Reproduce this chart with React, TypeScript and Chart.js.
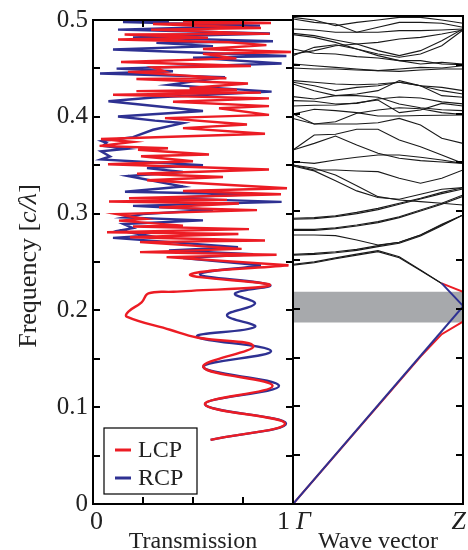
import React, { useEffect, useRef } from 'react';
import { Chart, registerables } from 'chart.js';
Chart.register(...registerables);

const FONT = '"Liberation Serif", "Times New Roman", serif';
const RED = '#ec1c24';
const BLUE = '#2e3192';

// ---------- Left panel: transmission [T, frequency] ----------
const lcpLow: number[][] = [
  [0.588, 0.0663], [0.96, 0.0833], [0.56, 0.103], [0.898, 0.122], [0.552, 0.1414], [0.802, 0.163],
  [0.52, 0.172], [0.385, 0.18], [0.168, 0.1936], [0.177, 0.1988], [0.243, 0.2083], [0.277, 0.2176],
  [0.402, 0.2193], [0.885, 0.2261], [0.485, 0.237], [0.977, 0.2466],
];
const lcpHigh: number[][] = [
  [0.977, 0.2466], [0.368, 0.255], [0.918, 0.2575], [0.235, 0.2602], [0.743, 0.2636], [0.235, 0.2705],
  [0.86, 0.2722], [0.185, 0.2756], [0.727, 0.279], [0.07, 0.2808], [0.78, 0.284], [0.2, 0.2866],
  [0.45, 0.2876], [0.13, 0.2927], [0.26, 0.2944], [0.12, 0.2995], [0.82, 0.3036], [0.33, 0.3064],
  [0.73, 0.3105], [0.08, 0.3125], [0.67, 0.3142], [0.18, 0.3159], [0.94, 0.32], [0.45, 0.3234],
  [0.97, 0.3262], [0.27, 0.3344], [0.65, 0.3378], [0.22, 0.3412], [0.88, 0.3456], [0.075, 0.351],
  [0.5, 0.3541], [0.24, 0.3593], [0.58, 0.361], [0.225, 0.366], [0.375, 0.3675], [0.033, 0.37],
  [0.2, 0.374], [0.04, 0.377], [0.86, 0.3825], [0.45, 0.3883], [0.77, 0.392], [0.36, 0.3986],
  [0.88, 0.402], [0.63, 0.4088], [0.88, 0.411], [0.4, 0.4156], [0.88, 0.419], [0.1, 0.4228],
  [0.84, 0.425], [0.217, 0.4265], [0.72, 0.428], [0.483, 0.4297], [0.775, 0.4344], [0.217, 0.439],
  [0.667, 0.4399], [0.175, 0.4464], [0.358, 0.447], [0.3, 0.451], [0.79, 0.4525], [0.14, 0.4566],
  [0.717, 0.4604], [0.55, 0.465], [0.99, 0.4669], [0.55, 0.47], [0.867, 0.474], [0.68, 0.477],
  [0.125, 0.4799], [0.575, 0.4816], [0.158, 0.485], [0.883, 0.4857], [0.29, 0.4901], [0.84, 0.4918],
  [0.3, 0.4959], [0.89, 0.4969], [0.45, 0.499],
];
const rcpLow: number[][] = [
  [0.588, 0.0663], [0.965, 0.0833], [0.56, 0.103], [0.93, 0.122], [0.552, 0.1414], [0.89, 0.158],
  [0.52, 0.173], [0.81, 0.183], [0.67, 0.195], [0.81, 0.207], [0.71, 0.2175], [0.885, 0.2261],
  [0.535, 0.237], [0.84, 0.2465],
];
const rcpHigh: number[][] = [
  [0.84, 0.2465], [0.45, 0.254], [0.8, 0.258], [0.38, 0.262], [0.725, 0.2654], [0.1, 0.2749],
  [0.27, 0.2773], [0.133, 0.2825], [0.2, 0.285], [0.152, 0.2892], [0.55, 0.293], [0.158, 0.296],
  [0.25, 0.2995], [0.6, 0.304], [0.2, 0.308], [0.943, 0.3121], [0.35, 0.316], [0.785, 0.32],
  [0.16, 0.3226], [0.45, 0.328], [0.175, 0.3388], [0.45, 0.343], [0.27, 0.347], [0.55, 0.35],
  [0.04, 0.3559], [0.085, 0.359], [0.04, 0.3644], [0.168, 0.367], [0.05, 0.37], [0.067, 0.373],
  [0.043, 0.375], [0.2, 0.379], [0.3, 0.3866], [0.45, 0.3935], [0.31, 0.396], [0.125, 0.4003],
  [0.55, 0.406], [0.077, 0.416], [0.3, 0.42], [0.893, 0.426], [0.38, 0.433], [0.66, 0.441],
  [0.035, 0.4447], [0.4, 0.447], [0.118, 0.4498], [0.943, 0.455], [0.5, 0.4611], [0.967, 0.4628],
  [0.1, 0.4696], [0.6, 0.473], [0.317, 0.4764], [0.9, 0.4781], [0.2, 0.482], [0.885, 0.486],
  [0.125, 0.4901], [0.835, 0.4942], [0.15, 0.4979], [0.38, 0.499],
];

const freqMin = 0;
const freqMax = 0.5;
const freqTickMarks = [0, 0.05, 0.1, 0.15, 0.2, 0.25, 0.3, 0.35, 0.4, 0.45, 0.5];
const transTickMarks = [0.25, 0.5, 0.75];
const seriesNames = ['LCP', 'RCP'];
const yTitleParts: [string, string][] = [['Frequency [', 'normal'], ['c/λ', 'italic'], [']', 'normal']];

// ---------- Right panel: band structure ----------
const kPoints = [0, 1, 2, 3, 4, 5, 6, 7, 8];
const kLabelStart = 'Γ';
const kLabelEnd = 'Z';
const bands: number[][] = [
  [0.4986, 0.4959, 0.4901, 0.4935, 0.4959, 0.4986, 0.4986, 0.4959, 0.4925],
  [0.4969, 0.4935, 0.4918, 0.4833, 0.4884, 0.4935, 0.4935, 0.4925, 0.4884],
  [0.4867, 0.4857, 0.4833, 0.4833, 0.4833, 0.485, 0.485, 0.4857, 0.4867],
  [0.4822, 0.4799, 0.4754, 0.4713, 0.4645, 0.4594, 0.4645, 0.4747, 0.4867],
  [0.4809, 0.4781, 0.473, 0.4662, 0.4611, 0.4577, 0.4611, 0.4696, 0.4857],
  [0.4611, 0.4645, 0.4696, 0.4713, 0.473, 0.4764, 0.4781, 0.4816, 0.4857],
  [0.4594, 0.4679, 0.4706, 0.4662, 0.4594, 0.4543, 0.4508, 0.4525, 0.4508],
  [0.4662, 0.4618, 0.4611, 0.4584, 0.457, 0.4543, 0.4543, 0.4508, 0.4501],
  [0.4508, 0.4491, 0.4474, 0.4457, 0.444, 0.4457, 0.4474, 0.4467, 0.4491],
  [0.4467, 0.4457, 0.4457, 0.4447, 0.444, 0.4433, 0.4447, 0.4457, 0.4457],
  [0.4338, 0.4321, 0.4303, 0.4296, 0.4303, 0.4321, 0.4286, 0.4269, 0.4235],
  [0.4321, 0.4286, 0.4235, 0.4269, 0.4286, 0.4321, 0.4286, 0.4235, 0.4201],
  [0.4303, 0.4235, 0.4184, 0.4201, 0.4235, 0.4338, 0.4286, 0.4184, 0.4167],
  [0.4174, 0.415, 0.4184, 0.4184, 0.4167, 0.4098, 0.406, 0.404, 0.403],
  [0.4133, 0.4126, 0.4098, 0.4105, 0.415, 0.417, 0.416, 0.412, 0.41],
  [0.4078, 0.4085, 0.4088, 0.411, 0.4139, 0.401, 0.4037, 0.4105, 0.4078],
  [0.3996, 0.4044, 0.403, 0.401, 0.3975, 0.3975, 0.398, 0.3983, 0.3986],
  [0.3996, 0.3893, 0.3917, 0.4003, 0.4037, 0.406, 0.405, 0.401, 0.399],
  [0.395, 0.3893, 0.3893, 0.3893, 0.3907, 0.3951, 0.3883, 0.3747, 0.3695],
  [0.3627, 0.3781, 0.3788, 0.3839, 0.3839, 0.373, 0.3661, 0.3576, 0.349],
  [0.3627, 0.3695, 0.377, 0.3678, 0.3593, 0.3542, 0.3518, 0.3504, 0.349],
  [0.3507, 0.349, 0.3524, 0.3552, 0.3576, 0.3576, 0.3552, 0.3524, 0.349],
  [0.3464, 0.3413, 0.3311, 0.3208, 0.314, 0.3123, 0.3174, 0.3225, 0.3242],
  [0.3473, 0.344, 0.337, 0.326, 0.3149, 0.3115, 0.3098, 0.3081, 0.3064],
  [0.3473, 0.3422, 0.3422, 0.3412, 0.3405, 0.3337, 0.3286, 0.3337, 0.3422],
  [0.2927, 0.2934, 0.2954, 0.2988, 0.3029, 0.3081, 0.3132, 0.3193, 0.3241],
  [0.2917, 0.2924, 0.2944, 0.2975, 0.3016, 0.3071, 0.3125, 0.318, 0.3228],
  [0.2814, 0.2814, 0.2831, 0.2858, 0.2893, 0.2944, 0.3012, 0.3081, 0.3166],
  [0.2804, 0.2804, 0.2821, 0.2848, 0.2883, 0.2934, 0.3002, 0.3071, 0.3152],
  [0.2756, 0.2756, 0.275, 0.2705, 0.2654, 0.2681, 0.2756, 0.2866, 0.2961],
  [0.2558, 0.2568, 0.2585, 0.2609, 0.2647, 0.2681, 0.2756, 0.2859, 0.2961],
  [0.2548, 0.2558, 0.2575, 0.2599, 0.2637, 0.2671, 0.2746, 0.2852, 0.2961],
  [0.2457, 0.2481, 0.2522, 0.256, 0.2596, 0.2534, 0.2398, 0.226],
  [0.2447, 0.2471, 0.2512, 0.255, 0.2586, 0.2524, 0.2392, 0.226],
];
const lcpBandLow: number[][] = [[0, 0], [6, 0.151], [7, 0.174], [8, 0.187]];
const lcpBandHigh: number[][] = [[7, 0.226], [8, 0.2175]];
const rcpBandLow: number[][] = [[0, 0], [8, 0.2025]];
const rcpBandHigh: number[][] = [[7, 0.226], [8, 0.203]];
const gapTop = 0.2175;
const gapBottom = 0.186;

const toXY = (arr: number[][]) => arr.map(([x, y]) => ({ x, y }));

function framePlugin(yMarks: number[], xMarks: number[]) {
  return {
    id: 'frame',
    afterDraw(chart: any) {
      const { ctx, chartArea: a, scales } = chart;
      const len = 7;
      ctx.save();
      ctx.strokeStyle = '#000';
      ctx.lineWidth = 2;
      ctx.strokeRect(a.left, a.top, a.right - a.left, a.bottom - a.top);
      ctx.beginPath();
      for (const v of yMarks) {
        const y = Math.round(scales.y.getPixelForValue(v));
        ctx.moveTo(a.left, y); ctx.lineTo(a.left + len, y);
        ctx.moveTo(a.right, y); ctx.lineTo(a.right - len, y);
      }
      for (const v of xMarks) {
        const x = Math.round(scales.x.getPixelForValue(v));
        ctx.moveTo(x, a.bottom); ctx.lineTo(x, a.bottom - len);
        ctx.moveTo(x, a.top); ctx.lineTo(x, a.top + len);
      }
      ctx.stroke();
      ctx.restore();
    },
  };
}

const legendPlugin = {
  id: 'boxLegend',
  afterDraw(chart: any) {
    const { ctx, chartArea: a } = chart;
    const items = chart.data.datasets.filter((d: any) => seriesNames.includes(d.label));
    const bx = a.left + 11, bw = 93, bh = 66, by = a.bottom - 10 - bh;
    ctx.save();
    ctx.fillStyle = '#fff';
    ctx.fillRect(bx, by, bw, bh);
    ctx.strokeStyle = '#000';
    ctx.lineWidth = 1.2;
    ctx.strokeRect(bx, by, bw, bh);
    ctx.font = `24px ${FONT}`;
    ctx.textBaseline = 'middle';
    items.forEach((d: any, i: number) => {
      const y = by + 22 + i * 28;
      ctx.strokeStyle = d.borderColor;
      ctx.lineWidth = 3;
      ctx.beginPath();
      ctx.moveTo(bx + 11, y); ctx.lineTo(bx + 27, y);
      ctx.stroke();
      ctx.fillStyle = '#222';
      ctx.fillText(d.label, bx + 34, y + 1);
    });
    ctx.restore();
  },
};

const yTitlePlugin = {
  id: 'yTitle',
  afterDraw(chart: any) {
    const { ctx, chartArea: a } = chart;
    ctx.save();
    ctx.translate(29, (a.top + a.bottom) / 2 + 4);
    ctx.rotate(-Math.PI / 2);
    ctx.textBaseline = 'middle';
    ctx.fillStyle = '#222';
    let total = 0;
    const widths = yTitleParts.map(([t, s]) => {
      ctx.font = `${s} 26px ${FONT}`;
      const w = ctx.measureText(t).width;
      total += w;
      return w;
    });
    let x = -total / 2;
    yTitleParts.forEach(([t, s], i) => {
      ctx.font = `${s} 26px ${FONT}`;
      ctx.fillText(t, x, 0);
      x += widths[i];
    });
    ctx.restore();
  },
};

export default function App() {
  const leftRef = useRef<HTMLCanvasElement>(null);
  const rightRef = useRef<HTMLCanvasElement>(null);

  useEffect(() => {
    const lineDs = (label: string, data: number[][], color: string, tension: number, width = 2.4) => ({
      label,
      data: toXY(data),
      showLine: true,
      borderColor: color,
      backgroundColor: color,
      borderWidth: width,
      pointRadius: 0,
      tension,
      fill: false,
    });

    const left = new Chart(leftRef.current!, {
      type: 'scatter',
      data: {
        datasets: [
          lineDs(seriesNames[0], lcpLow, RED, 0.4),
          lineDs('', lcpHigh, RED, 0),
          lineDs(seriesNames[1], rcpLow, BLUE, 0.4),
          lineDs('', rcpHigh, BLUE, 0),
        ] as any,
      },
      options: {
        responsive: false,
        animation: false,
        layout: { padding: { top: 16, right: 7, left: 0, bottom: 0 } },
        plugins: { legend: { display: false }, tooltip: { enabled: false } },
        scales: {
          x: {
            type: 'linear', min: 0, max: 1,
            grid: { display: false, drawTicks: false },
            border: { display: false },
            ticks: {
              stepSize: 1, align: 'inner', maxRotation: 0, padding: 3, labelOffset: -3, color: '#222',
              font: { family: FONT, size: 26 },
              callback: (v: any) => (v === 0 ? '0' : v === 1 ? '1' : ''),
            },
            title: { display: true, text: 'Transmission', color: '#222', font: { family: FONT, size: 24 }, padding: { top: 0, bottom: -6 } },
            afterFit: (s: any) => { s.height = 46; },
          },
          y: {
            type: 'linear', min: freqMin, max: freqMax,
            grid: { display: false, drawTicks: false },
            border: { display: false },
            ticks: {
              stepSize: 0.1, padding: 5, color: '#222',
              font: { family: FONT, size: 25 },
              callback: (v: any) => (v === 0 ? '0' : Number(v).toFixed(1)),
            },
            afterFit: (s: any) => { s.width = 93; },
          },
        },
      } as any,
      plugins: [framePlugin(freqTickMarks, transTickMarks), legendPlugin, yTitlePlugin],
    });

    const bandDatasets = bands.map((b) => ({
      label: '',
      data: b.map((f, i) => ({ x: kPoints[i], y: f })),
      showLine: true,
      borderColor: '#1a1a1a',
      borderWidth: 1.1,
      pointRadius: 0,
      tension: 0,
      fill: false,
    }));

    const right = new Chart(rightRef.current!, {
      type: 'scatter',
      data: {
        datasets: [
          lineDs('RCP', rcpBandLow, BLUE, 0, 2),
          lineDs('RCP', rcpBandHigh, BLUE, 0, 2),
          lineDs('LCP', lcpBandLow, RED, 0, 2),
          lineDs('LCP', lcpBandHigh, RED, 0, 2),
          ...bandDatasets,
          {
            label: 'gap',
            data: [{ x: kPoints[0], y: gapTop }, { x: kPoints[kPoints.length - 1], y: gapTop }],
            showLine: true,
            borderWidth: 0,
            borderColor: 'rgba(0,0,0,0)',
            backgroundColor: '#a7a9ac',
            pointRadius: 0,
            fill: { value: gapBottom },
          },
        ] as any,
      },
      options: {
        responsive: false,
        animation: false,
        layout: { padding: { top: 16, right: 5, left: 7, bottom: 0 } },
        plugins: { legend: { display: false }, tooltip: { enabled: false } },
        scales: {
          x: {
            type: 'linear', min: kPoints[0], max: kPoints[kPoints.length - 1],
            grid: { display: false, drawTicks: false },
            border: { display: false },
            ticks: {
              stepSize: 8, align: 'inner', maxRotation: 0, padding: 3, labelOffset: 3, color: '#222',
              font: { family: FONT, size: 26, style: 'italic' },
              callback: (v: any) => (v === 0 ? kLabelStart : v === 8 ? kLabelEnd : ''),
            },
            title: { display: true, text: 'Wave vector', color: '#222', font: { family: FONT, size: 24 }, padding: { top: 0, bottom: -6 } },
            afterFit: (s: any) => { s.height = 46; },
          },
          y: { type: 'linear', min: freqMin, max: freqMax, display: false },
        },
      } as any,
      plugins: [framePlugin(freqTickMarks, [])],
    });

    return () => {
      left.destroy();
      right.destroy();
    };
  }, []);

  return (
    <div style={{ position: 'absolute', left: 0, top: 0, width: 468, height: 550, background: '#fff' }}>
      <canvas ref={leftRef} width={300} height={550} style={{ position: 'absolute', left: 0, top: 0 }} />
      <canvas ref={rightRef} width={182} height={550} style={{ position: 'absolute', left: 286, top: 0 }} />
    </div>
  );
}
